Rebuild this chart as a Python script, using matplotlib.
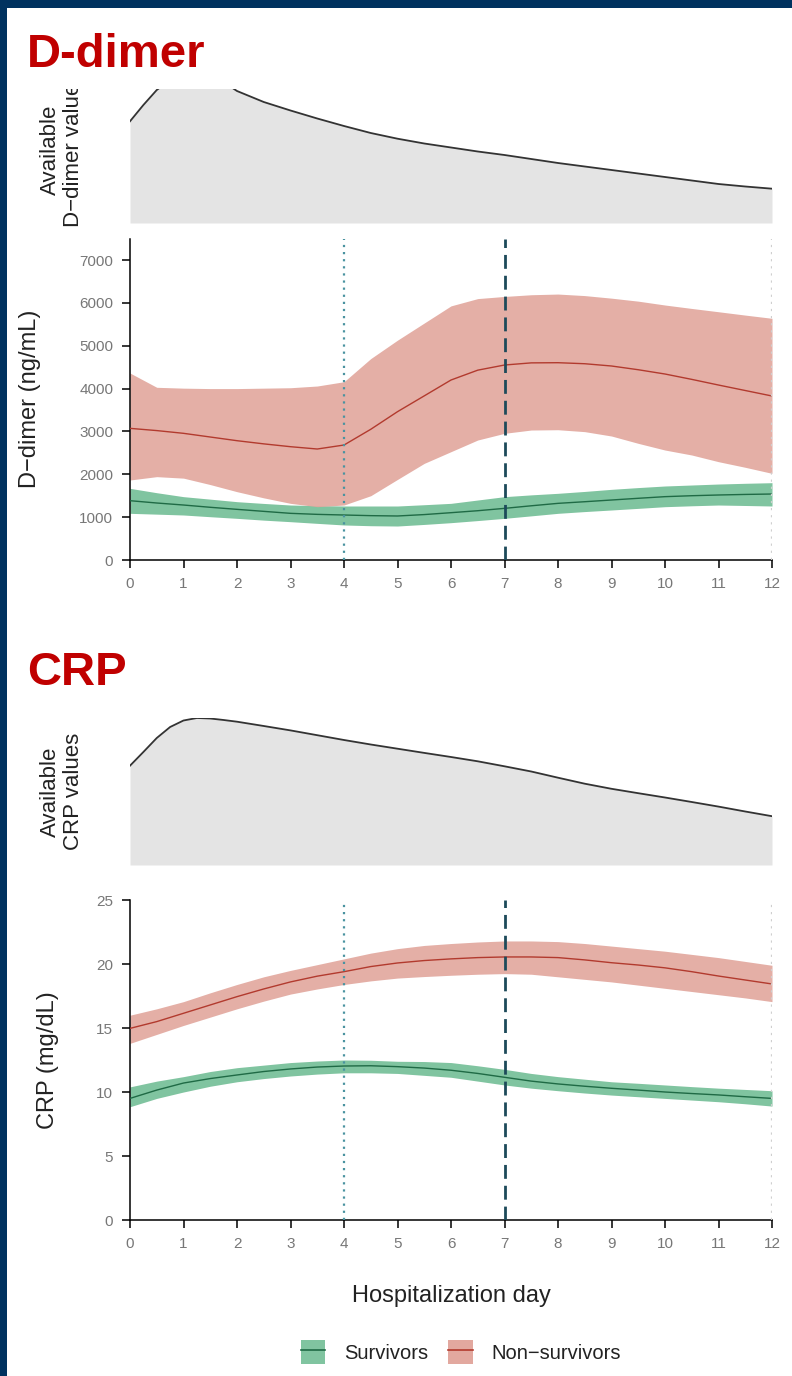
import numpy as np
import matplotlib.pyplot as plt
from matplotlib.patches import Patch, Rectangle
from matplotlib.lines import Line2D

plt.rcParams['font.family'] = ['Liberation Sans', 'DejaVu Sans']

W, H = 792, 1376

# ---- data ----
DAYS = np.arange(0, 12.5, 0.5)

# D-dimer (ng/mL)
DD_NS_MEAN = [3072, 3020, 2956, 2870, 2784, 2710, 2644, 2590, 2683, 3050, 3461, 3830, 4200,
              4430, 4550, 4600, 4604, 4580, 4527, 4440, 4340, 4215, 4083, 3955, 3827]
DD_NS_UP = [4363, 4030, 4010, 4000, 4000, 4010, 4020, 4060, 4160, 4700, 5130, 5530, 5930,
            6100, 6150, 6190, 6206, 6170, 6110, 6040, 5950, 5870, 5793, 5715, 5640]
DD_NS_LO = [1867, 1945, 1910, 1760, 1594, 1450, 1322, 1244, 1283, 1500, 1880, 2255, 2528,
            2800, 2956, 3033, 3040, 2995, 2893, 2722, 2566, 2450, 2294, 2163, 2022]
DD_S_MEAN = [1384, 1330, 1283, 1230, 1182, 1135, 1089, 1065, 1050, 1035, 1027, 1060, 1104,
             1150, 1205, 1265, 1322, 1360, 1400, 1440, 1478, 1500, 1517, 1530, 1540]
DD_S_UP = [1672, 1570, 1478, 1420, 1361, 1320, 1283, 1270, 1260, 1260, 1260, 1290, 1322,
           1400, 1478, 1520, 1556, 1600, 1649, 1690, 1727, 1750, 1773, 1790, 1804]
DD_S_LO = [1089, 1070, 1050, 1010, 972, 930, 894, 855, 817, 800, 793, 830, 871,
           920, 972, 1030, 1089, 1130, 1167, 1205, 1244, 1265, 1283, 1272, 1260]

# CRP (mg/dL)
CRP_NS_MEAN = [14.97, 15.5, 16.15, 16.8, 17.45, 18.05, 18.6, 19.05, 19.4, 19.8, 20.08, 20.27, 20.4,
               20.5, 20.55, 20.55, 20.5, 20.32, 20.1, 19.92, 19.7, 19.4, 19.06, 18.75, 18.44]
CRP_NS_UP = [16.0, 16.5, 17.06, 17.75, 18.4, 19.0, 19.5, 19.95, 20.4, 20.85, 21.2, 21.45, 21.6,
             21.72, 21.8, 21.8, 21.75, 21.6, 21.4, 21.2, 21.0, 20.75, 20.5, 20.2, 19.9]
CRP_NS_LO = [13.8, 14.5, 15.2, 15.85, 16.5, 17.1, 17.65, 18.05, 18.4, 18.68, 18.9, 19.02, 19.12,
             19.2, 19.25, 19.2, 19.0, 18.8, 18.6, 18.35, 18.1, 17.85, 17.6, 17.35, 17.06]
CRP_S_MEAN = [9.5, 10.15, 10.7, 11.05, 11.33, 11.6, 11.8, 11.95, 12.03, 12.05, 11.98, 11.87, 11.7,
              11.45, 11.15, 10.85, 10.63, 10.45, 10.29, 10.15, 10.0, 9.88, 9.77, 9.63, 9.5]
CRP_S_UP = [10.4, 10.85, 11.2, 11.6, 11.9, 12.1, 12.3, 12.42, 12.5, 12.48, 12.4, 12.38, 12.3,
            12.05, 11.77, 11.45, 11.2, 11.0, 10.8, 10.68, 10.55, 10.42, 10.3, 10.2, 10.1]
CRP_S_LO = [8.85, 9.5, 10.0, 10.45, 10.8, 11.05, 11.25, 11.4, 11.5, 11.5, 11.45, 11.3, 11.15,
            10.85, 10.55, 10.3, 10.1, 9.92, 9.76, 9.63, 9.5, 9.37, 9.24, 9.08, 8.9]

# available values (relative counts)
AV_DAYS = [0, 0.25, 0.5, 0.75, 1, 1.25, 1.5, 1.75, 2, 2.5, 3, 3.5, 4, 4.5, 5, 5.5, 6,
           6.5, 7, 7.5, 8, 8.5, 9, 9.5, 10, 10.5, 11, 11.5, 12]
AV_DD = [101.7, 118, 133, 143, 148, 150, 148, 141, 132, 121, 112.5, 104.5, 97, 90, 84.3, 79.5, 75.5,
         71.5, 68, 64, 60, 56.5, 53, 49.5, 46, 42.5, 39, 36.5, 34.3]
AV_CRP = [99.3, 113, 127, 138, 144.5, 147, 146.5, 145, 143.3, 139, 134.6, 129.8, 125, 120.5, 116.3, 112.1, 108,
          103.7, 98.7, 93.5, 87.3, 81.3, 76.2, 71.8, 67.5, 63, 58.4, 53.5, 48.8]

GREEN_FILL, GREEN_LINE = '#80c4a0', '#1f6a45'
RED_FILL, RED_LINE = '#e2a89f', '#b23a2e'
TICK_COL = '#777777'

fig = plt.figure(figsize=(W / 100, H / 100), dpi=100)


def px_axes(left, top, right, bottom):
    return fig.add_axes([left / W, 1 - bottom / H, (right - left) / W, (bottom - top) / H])


def area_panel(top, vals, label):
    ax = px_axes(130, top, 772, top + 147)
    ax.fill_between(AV_DAYS, 0, vals, color='#e4e4e4', lw=0)
    ax.plot(AV_DAYS, vals, color='#333333', lw=1.3)
    ax.set_xlim(0, 12)
    ax.set_ylim(0, 147)
    ax.axis('off')
    ax.text((62 - 130) / 642, 0.5, label, transform=ax.transAxes, rotation=90,
            ha='center', va='center', fontsize=16, linespacing=1.1, color='#222222')
    return ax


def main_panel(top, bottom, ymax, yticks, s, ns, label, label_x):
    ax = px_axes(130, top, 772, bottom)
    s_mean, s_lo, s_up = s
    ns_mean, ns_lo, ns_up = ns
    ax.fill_between(DAYS, s_lo, s_up, color=GREEN_FILL, lw=0, zorder=1)
    ax.fill_between(DAYS, ns_lo, ns_up, color=RED_FILL, lw=0, alpha=0.92, zorder=2)
    ax.plot(DAYS, s_mean, color=GREEN_LINE, lw=1.0, zorder=3)
    ax.plot(DAYS, ns_mean, color=RED_LINE, lw=1.0, zorder=3)
    ax.axvline(4, ls=(0, (1, 2.2)), color='#4a93a0', lw=1.6, zorder=4)
    ax.axvline(7, ls=(0, (5, 2.5)), color='#1d4a5a', lw=2.0, zorder=4)
    ax.axvline(12, ls=(0, (1, 2.2)), color='#cfcfcf', lw=1.6, zorder=4)
    ax.set_xlim(0, 12)
    ax.set_ylim(0, ymax)
    ax.set_xticks(range(13))
    ax.set_yticks(yticks)
    for sp in ['top', 'right']:
        ax.spines[sp].set_visible(False)
    for sp in ['left', 'bottom']:
        ax.spines[sp].set_linewidth(1.1)
    ax.tick_params(length=6, width=1.1, pad=6, labelsize=11, labelcolor=TICK_COL)
    fig.text(label_x / W, 1 - (top + bottom) / 2 / H, label, rotation=90,
             ha='center', va='center', fontsize=17, color='#222222')
    return ax


area_panel(76, AV_DD, 'Available\nD\u2212dimer values')
main_panel(238.6, 560, 7500, range(0, 7001, 1000),
           (DD_S_MEAN, DD_S_LO, DD_S_UP), (DD_NS_MEAN, DD_NS_LO, DD_NS_UP),
           'D\u2212dimer (ng/mL)', 30)

area_panel(718, AV_CRP, 'Available\nCRP values')
main_panel(900, 1220, 25, range(0, 26, 5),
           (CRP_S_MEAN, CRP_S_LO, CRP_S_UP), (CRP_NS_MEAN, CRP_NS_LO, CRP_NS_UP),
           'CRP (mg/dL)', 48)

fig.text(451 / W, 1 - 1296 / H, 'Hospitalization day', ha='center', va='center',
         fontsize=17, color='#222222')

handles = [(Patch(facecolor=GREEN_FILL, edgecolor='none'), Line2D([], [], color=GREEN_LINE, lw=1.2)),
           (Patch(facecolor=RED_FILL, edgecolor='none'), Line2D([], [], color=RED_LINE, lw=1.2))]
fig.legend(handles, ['Survivors', 'Non\u2212survivors'], loc='center',
           bbox_to_anchor=(461 / W, 1 - 1352 / H), ncol=2, frameon=False, fontsize=14.5,
           handlelength=1.2, handleheight=1.4, handletextpad=0.95, columnspacing=1.0,
           borderpad=0, labelcolor='#222222')

# white cover over the top strip (the panel was cropped), then titles and border
fig.patches.append(Rectangle((0, 1 - 89 / H), 1, 89 / H, transform=fig.transFigure,
                             facecolor='white', edgecolor='none', zorder=5))
fig.text(27 / W, 1 - 67 / H, 'D-dimer', fontsize=34, fontweight='bold', color='#C00000',
         va='baseline', zorder=6)
fig.text(27 / W, 1 - 685 / H, 'CRP', fontsize=34, fontweight='bold', color='#C00000',
         va='baseline', zorder=6)
fig.patches.append(Rectangle((0, 0), 7 / W, 1, transform=fig.transFigure,
                             facecolor='#00325f', edgecolor='none', zorder=10))
fig.patches.append(Rectangle((0, 1 - 8 / H), 1, 8 / H, transform=fig.transFigure,
                             facecolor='#00325f', edgecolor='none', zorder=10))

fig.savefig('out.png', dpi=100)
